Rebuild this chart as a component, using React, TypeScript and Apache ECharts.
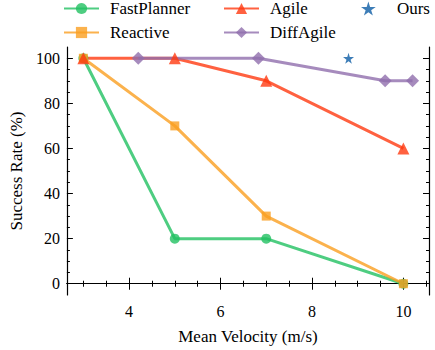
import React, { useEffect, useRef } from "react";
import * as echarts from "echarts";

const fastPlannerX = [3, 5, 7, 10];
const fastPlannerY = [100, 20, 20, 0];
const reactiveX = [3, 5, 7, 10];
const reactiveY = [100, 70, 30, 0];
const agileX = [3, 5, 7, 10];
const agileY = [100, 100, 90, 60];
const diffAgileX = [4.2, 6.83, 9.6, 10.2];
const diffAgileY = [100, 100, 90, 90];
const oursX = [8.8];
const oursY = [100];

const xMajor = [4, 6, 8, 10];
const xMinor = [3, 3.5, 4.5, 5, 5.5, 6.5, 7, 7.5, 8.5, 9, 9.5, 10.5];
const yMajor = [0, 20, 40, 60, 80, 100];
const yMinor = [5, 10, 15, 25, 30, 35, 45, 50, 55, 65, 70, 75, 85, 90, 95];

const FONT = "'Liberation Serif', serif";
const STAR = "path://M50,0 L61,35 L98,35 L68,57 L79,91 L50,70 L21,91 L32,57 L2,35 L39,35 Z";

const zip = (xs: number[], ys: number[]) => xs.map((x, i) => [x, ys[i]]);

export default function App() {
  const ref = useRef<HTMLDivElement>(null);
  useEffect(() => {
    document.body.style.margin = "0";
    const chart = echarts.init(ref.current!, undefined, { renderer: "svg" });
    const xMin = 2.64, xMax = 10.56, yMin = -5, yMax = 105;
    const lineAxis = { show: true, lineStyle: { color: "#000", width: 1.2 } };
    const mkX = (pos: string, vals: number[], len: number, label: boolean, line: boolean, extra: any = {}) => ({
      type: "value", min: xMin, max: xMax, position: pos,
      axisLine: line ? lineAxis : { show: false },
      axisTick: { show: true, inside: true, length: len, customValues: vals, lineStyle: { color: "#000", width: 1 } },
      axisLabel: label
        ? { show: true, customValues: vals, color: "#000", fontFamily: FONT, fontSize: 16, margin: 8 }
        : { show: false },
      splitLine: { show: false },
      ...extra,
    });
    const mkY = (pos: string, vals: number[], len: number, label: boolean, line: boolean, extra: any = {}) => ({
      type: "value", min: yMin, max: yMax, position: pos,
      axisLine: line ? lineAxis : { show: false },
      axisTick: { show: true, inside: true, length: len, customValues: vals, lineStyle: { color: "#000", width: 1 } },
      axisLabel: label
        ? { show: true, customValues: vals, color: "#000", fontFamily: FONT, fontSize: 16, margin: 7 }
        : { show: false },
      splitLine: { show: false },
      ...extra,
    });
    const lineSeries = (name: string, xs: number[], ys: number[], color: string, symbol: string, size: number) => ({
      name, type: "line", data: zip(xs, ys), xAxisIndex: 0, yAxisIndex: 0,
      symbol, symbolSize: size, showSymbol: true,
      lineStyle: { color, width: 3, opacity: 0.8 },
      itemStyle: { color, opacity: 0.8 },
    });
    const legendBase = {
      orient: "vertical", top: -5, itemWidth: 35, itemHeight: 14, itemGap: 7,
      textStyle: { fontFamily: FONT, fontSize: 17, lineHeight: 14, color: "#000", padding: [0, 0, 0, 6] },
    };
    chart.setOption({
      animation: false,
      grid: { left: 65, top: 47, width: 364, height: 251, containLabel: false },
      legend: [
        { ...legendBase, left: 58, data: ["FastPlanner", "Reactive"] },
        { ...legendBase, left: 218, data: ["Agile", "DiffAgile"] },
        { ...legendBase, left: 356, data: ["Ours"] },
      ],
      xAxis: [
        mkX("bottom", xMajor, 6, true, true, {
          name: "Mean Velocity (m/s)", nameLocation: "middle", nameGap: 33,
          nameTextStyle: { fontFamily: FONT, fontSize: 17, color: "#000" },
        }),
        mkX("bottom", xMinor, 3, false, false),
        mkX("top", xMajor, 6, false, true),
        mkX("top", xMinor, 3, false, false),
      ],
      yAxis: [
        mkY("left", yMajor, 6, true, true, {
          name: "Success Rate (%)", nameLocation: "middle", nameGap: 39, nameRotate: 90,
          nameTextStyle: { fontFamily: FONT, fontSize: 17, color: "#000" },
        }),
        mkY("left", yMinor, 3, false, false),
        mkY("right", yMajor, 6, false, true),
        mkY("right", yMinor, 3, false, false),
      ],
      series: [
        lineSeries("FastPlanner", fastPlannerX, fastPlannerY, "#22c062", "circle", 10),
        lineSeries("Reactive", reactiveX, reactiveY, "#fa9f20", "rect", 9),
        lineSeries("Agile", agileX, agileY, "#ff3a10", "triangle", 12),
        lineSeries("DiffAgile", diffAgileX, diffAgileY, "#906ead", "diamond", 13),
        {
          name: "Ours", type: "scatter", data: zip(oursX, oursY), xAxisIndex: 0, yAxisIndex: 0,
          symbol: STAR, symbolSize: 11, itemStyle: { color: "#0c5da5" },
        },
      ],
    });
    return () => chart.dispose();
  }, []);
  return <div ref={ref} style={{ width: 435, height: 350 }} />;
}
